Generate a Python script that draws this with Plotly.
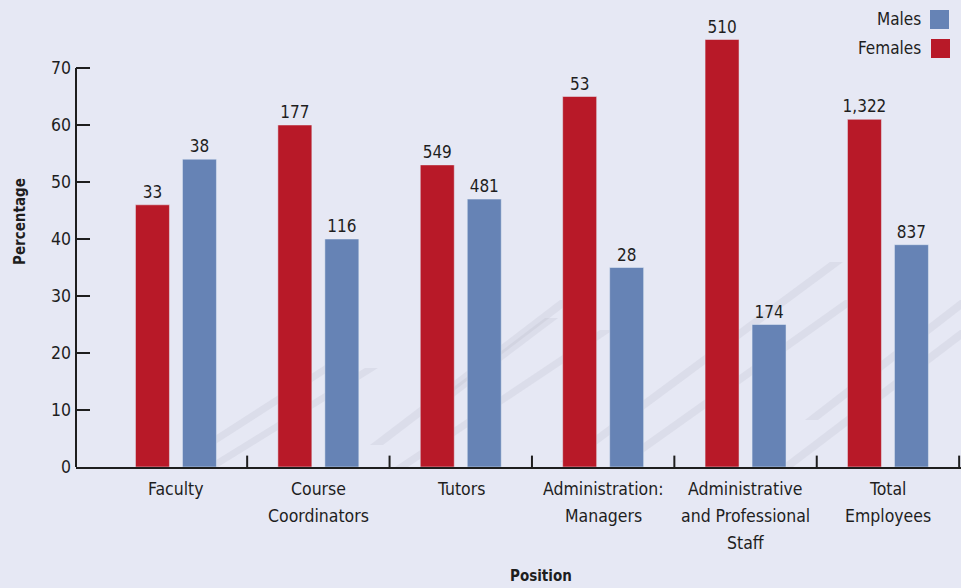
import plotly.graph_objects as go

categories = ["Faculty", "Course<br>Coordinators", "Tutors", "Administration:<br>Managers",
              "Administrative<br>and Professional<br>Staff", "Total<br>Employees"]
female_pct = [46, 60, 53, 65, 75, 61]
male_pct = [54, 40, 47, 35, 25, 39]
female_n = ["33", "177", "549", "53", "510", "1,322"]
male_n = ["38", "116", "481", "28", "174", "837"]
y_ticks = [0, 10, 20, 30, 40, 50, 60, 70]

RED = "#b81928"
BLUE = "#6683b5"
BG = "#e6e8f4"
TXT = "#1e1e1e"
FONT = "DejaVu Sans Condensed, Liberation Sans Narrow, Arial Narrow, sans-serif"
FS = 17.5

W, H = 961, 588
L, R, T, B = 76, 0, 11, 121
PW, PH = W - L - R, H - T - B

def px(x):
    return (x - L) / PW

def py(y):
    return (H - B - y) / PH

fig = go.Figure()
fig.add_trace(go.Bar(x=categories, y=female_pct, name="Females", marker_color=RED,
                     text=female_n, textposition="outside", constraintext="none",
                     textfont=dict(size=17, color=TXT, family=FONT), cliponaxis=False))
fig.add_trace(go.Bar(x=categories, y=male_pct, name="Males", marker_color=BLUE,
                     text=male_n, textposition="outside", constraintext="none",
                     textfont=dict(size=17, color=TXT, family=FONT), cliponaxis=False))

shapes = []
# faint diagonal watermark stripes (background decoration)
stripes = [((190, 452), (330, 362)), ((205, 467), (365, 368)),
           ((370, 445), (560, 300)), ((395, 467), (600, 330)), ((430, 405), (545, 318)),
           ((560, 462), (830, 262)), ((610, 467), (845, 300)),
           ((780, 467), (960, 330)), ((805, 420), (960, 300))]
for (x0, y0), (x1, y1) in stripes:
    t = 13
    path = "M {a},{b} L {c},{d} L {e},{f} L {g},{h} Z".format(
        a=px(x0), b=py(y0), c=px(x1), d=py(y1), e=px(x1 + t), f=py(y1), g=px(x0 + t), h=py(y0))
    shapes.append(dict(type="path", xref="paper", yref="paper", path=path,
                       fillcolor="rgba(170,174,190,0.18)", line=dict(width=0), layer="below"))

n = len(categories)
for i in range(n):
    shapes.append(dict(type="line", xref="x", yref="y", x0=i + 0.5, x1=i + 0.5,
                       y0=0, y1=2, line=dict(color=TXT, width=2)))
shapes.append(dict(type="line", xref="paper", yref="y", x0=0, x1=0, y0=0, y1=max(y_ticks),
                   line=dict(color=TXT, width=2)))
shapes.append(dict(type="rect", xref="paper", yref="paper", x0=px(930), x1=px(949),
                   y0=py(29), y1=py(10), fillcolor=BLUE, line=dict(width=0)))
shapes.append(dict(type="rect", xref="paper", yref="paper", x0=px(931), x1=px(950),
                   y0=py(58), y1=py(39), fillcolor=RED, line=dict(width=0)))

annotations = [
    dict(text="Males", xref="paper", yref="paper", x=px(923), y=py(19), xanchor="right",
         yanchor="middle", showarrow=False, font=dict(size=17, color=TXT, family=FONT)),
    dict(text="Females", xref="paper", yref="paper", x=px(923), y=py(48), xanchor="right",
         yanchor="middle", showarrow=False, font=dict(size=17, color=TXT, family=FONT)),
    dict(text="<b>Percentage</b>", xref="paper", yref="paper", x=px(20), y=py(222),
         textangle=-90, xanchor="center", yanchor="middle", showarrow=False,
         font=dict(size=15, color=TXT, family=FONT)),
    dict(text="<b>Position</b>", xref="paper", yref="paper", x=px(541), y=py(576),
         xanchor="center", yanchor="middle", showarrow=False,
         font=dict(size=15, color=TXT, family=FONT)),
]
# category labels, one annotation per line for the original's looser line spacing
for i, cat in enumerate(categories):
    for k, line in enumerate(cat.split("<br>")):
        annotations.append(dict(text=line, xref="x", yref="paper", x=i, y=py(489 + 27 * k),
                                xanchor="center", yanchor="middle", showarrow=False,
                                font=dict(size=FS, color=TXT, family=FONT)))

fig.update_layout(
    width=W, height=H,
    margin=dict(l=L, r=R, t=T, b=B, pad=0),
    paper_bgcolor=BG, plot_bgcolor=BG,
    barmode="group", bargap=0.34, bargroupgap=0.277,
    showlegend=False,
    font=dict(family=FONT, size=FS, color=TXT),
    shapes=shapes, annotations=annotations,
    xaxis=dict(type="category", range=[-0.702, 5.513], showline=True, linecolor=TXT,
               linewidth=2, ticks="", showgrid=False, zeroline=False, showticklabels=False),
    yaxis=dict(range=[0, 80], tickvals=y_ticks, ticks="inside", ticklen=14, tickwidth=2,
               tickcolor=TXT, showline=False, showgrid=False, zeroline=False,
               tickfont=dict(size=FS, color=TXT, family=FONT), ticklabelstandoff=4),
)

fig.write_html("out.html", config={"displayModeBar": False},
               post_script="document.body.style.margin='0';document.body.style.overflow='hidden';")
